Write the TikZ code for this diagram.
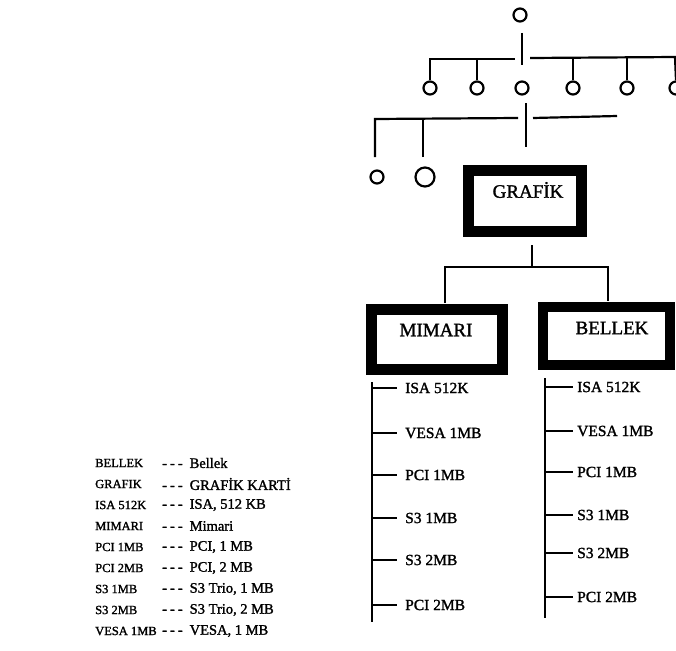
\documentclass[tikz,border=0pt]{standalone}
\usepackage{fontspec}
\setmainfont{Liberation Serif}[RawFeature={embolden=1.5}]
\begin{document}
\begin{tikzpicture}[x=1pt,y=-1pt,
  ln/.style={line width=2.2pt},
  circ/.style={circle,draw,line width=2.2pt,inner sep=0pt,minimum size=13pt},
  bigcirc/.style={circle,draw,line width=2.2pt,inner sep=0pt,minimum size=19pt},
  thickbox/.style={draw,line width=11pt,inner sep=0pt},
  boxlabel/.style={font=\fontsize{19}{19}\selectfont},
  item/.style={anchor=west,inner sep=0pt,font=\fontsize{15.5}{16}\selectfont},
  leg/.style={anchor=west,inner sep=0pt,font=\fontsize{12.5}{13}\selectfont},
  legr/.style={anchor=west,inner sep=0pt,font=\fontsize{14.5}{14.5}\selectfont}]
\useasboundingbox (0,0) rectangle (676,650);
% top level
\node[circ] (c0) at (520,15) {};
\coordinate (t1) at (522,33);
\coordinate (t2) at (522,65);
\draw[ln] (t1) -- (t2);
\node[circ] (a1) at (430,88) {};
\node[circ] (a2) at (477,88) {};
\node[circ] (a3) at (522,88) {};
\node[circ] (a4) at (573,88) {};
\node[circ] (a5) at (627,88) {};
\node[circ] (a6) at (676,88) {};
\draw[ln] (a1.north) -- (430,59) -- (515,59);
\draw[ln] (a2.north) -- (477,59);
\draw[ln] (530,58) -- (676,57);
\draw[ln] (a4.north) -- (573,58);
\draw[ln] (a5.north) -- (627,57);
\draw[ln] (a6.north) -- (675,57);
% second level
\coordinate (m1) at (526,103);
\coordinate (m2) at (526,147);
\draw[ln] (m1) -- (m2);
\node[circ] (b1) at (377,177) {};
\node[bigcirc] (b2) at (425,177) {};
\draw[ln] (375,157) -- (375,119) -- (518,118);
\draw[ln] (423,157) -- (423,118);
\draw[ln] (533,118) -- (617,116);
% GRAFIK box
\node[thickbox,minimum width=113pt,minimum height=61pt] (g) at (525,201) {};
\node[boxlabel] (gl) at (528,190) {GRAFİK};
\coordinate (g1) at (532,245);
\coordinate (g2) at (532,267);
\draw[ln] (g1) -- (g2);
% MIMARI and BELLEK boxes
\node[thickbox,minimum width=131pt,minimum height=60pt] (mb) at (436.5,339) {};
\node[boxlabel] (ml) at (436,330) {MIMARI};
\node[thickbox,minimum width=127pt,minimum height=58pt,line width=10pt] (bb) at (606,335.5) {};
\node[boxlabel] (bl) at (612,328) {BELLEK};
\draw[ln] (445,303) -- (445,267) -- (608,267) -- (608,301);
% MIMARI list
\draw[ln] (372,382) -- (372,622);
\foreach \y/\t [count=\i] in {388/ISA 512K,433/VESA 1MB,475/PCI 1MB,518/S3 1MB,560/S3 2MB,605/PCI 2MB}{
  \draw[ln] (372,\y) -- (397,\y);
  \node[item] (mi\i) at (405,\y) {\t};
}
% BELLEK list
\draw[ln] (545,378) -- (545,618);
\foreach \y/\t [count=\i] in {387/ISA 512K,431/VESA 1MB,472/PCI 1MB,515/S3 1MB,553/S3 2MB,597/PCI 2MB}{
  \draw[ln] (545,\y) -- (573,\y);
  \node[item] (bi\i) at (577,\y) {\t};
}
% legend
\foreach \a/\b [count=\i] in {BELLEK/Bellek,GRAFIK/GRAFİK KARTİ,ISA 512K/{ISA, 512 KB},MIMARI/Mimari,PCI 1MB/{PCI, 1 MB},PCI 2MB/{PCI, 2 MB},S3 1MB/{S3 Trio, 1 MB},S3 2MB/{S3 Trio, 2 MB},VESA 1MB/{VESA, 1 MB}}{
  \node[leg] (la\i) at (95,{463+21*(\i-1)}) {\a};
  \node[legr] (lb\i) at (162,{463+21*(\i-1)}) {\mbox{-\kern3pt-\kern3pt-}\hspace{7pt}\b};
}
\end{tikzpicture}
\end{document}
